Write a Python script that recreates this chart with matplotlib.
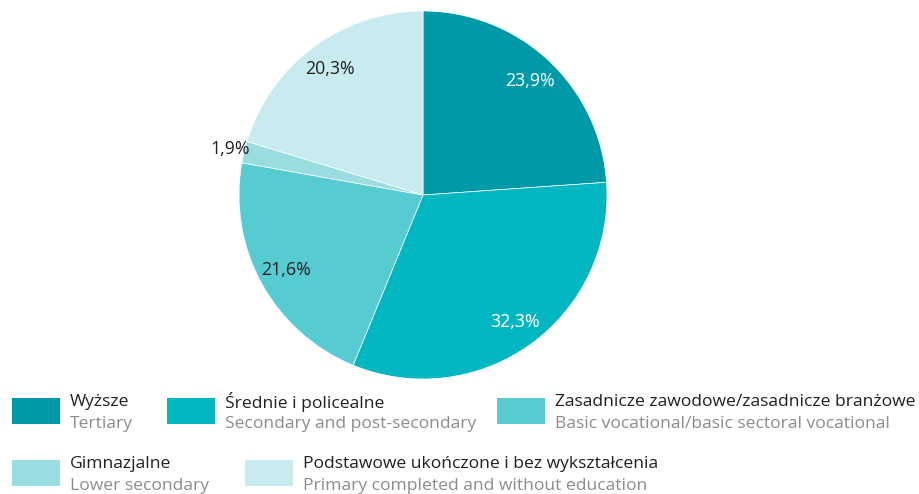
import numpy as np
import matplotlib.pyplot as plt
from matplotlib.patches import Rectangle

# ===================== Data =====================
SHARES = [23.9, 32.3, 21.6, 1.9, 20.3]
LABELS_PL = [
    "Wyższe",
    "Średnie i policealne",
    "Zasadnicze zawodowe/zasadnicze branżowe",
    "Gimnazjalne",
    "Podstawowe ukończone i bez wykształcenia",
]
LABELS_EN = [
    "Tertiary",
    "Secondary and post-secondary",
    "Basic vocational/basic sectoral vocational",
    "Lower secondary",
    "Primary completed and without education",
]

# ===================== Style =====================
COLORS = ["#0099a8", "#00b6c1", "#56cbd1", "#9adde1", "#c8ebef"]
PCT_COLORS = ["white", "white", "#231f20", "#231f20", "#231f20"]
FONT = "Open Sans"
W, H = 920, 494

# legend placement in pixels: (square x, square top y)
LEGEND_POS = [(12, 398), (167, 398), (497, 398), (12, 460), (245, 460)]
SQ_W, SQ_H = 48, 26


def fmt_pct(v):
    return f"{v:.1f}%".replace(".", ",")


def main():
    plt.rcParams["font.family"] = [FONT, "DejaVu Sans"]
    fig = plt.figure(figsize=(W / 100, H / 100), dpi=100)

    cx, cy, r = 423, 195, 184
    ax = fig.add_axes([(cx - r) / W, (H - cy - r) / H, 2 * r / W, 2 * r / H])
    wedges, texts = ax.pie(
        SHARES,
        colors=COLORS,
        startangle=90,
        counterclock=False,
        radius=1.0,
        wedgeprops=dict(edgecolor="white", linewidth=0.5),
    )
    ax.set_xlim(-1, 1)
    ax.set_ylim(-1, 1)
    ax.set_aspect("equal")
    ax.axis("off")

    # percentage labels
    for i, (w, v) in enumerate(zip(wedges, SHARES)):
        ang = np.deg2rad((w.theta1 + w.theta2) / 2)
        dist = 1.08 if v < 5 else 0.85
        ax.text(dist * np.cos(ang), dist * np.sin(ang), fmt_pct(v),
                ha="center", va="center", fontsize=12.8, color=PCT_COLORS[i])

    # legend
    for (x, y), col, pl, en in zip(LEGEND_POS, COLORS, LABELS_PL, LABELS_EN):
        fig.patches.append(Rectangle((x / W, 1 - (y + SQ_H) / H), SQ_W / W, SQ_H / H,
                                     transform=fig.transFigure, facecolor=col,
                                     edgecolor="none"))
        tx = (x + SQ_W + 10) / W
        fig.text(tx, 1 - (y + 4) / H, pl, ha="left", va="center",
                 fontsize=12.6, color="#231f20")
        fig.text(tx, 1 - (y + 26) / H, en, ha="left", va="center",
                 fontsize=12.6, color="#8c8c8c")

    fig.savefig("out.png", dpi=100)
    plt.close(fig)


if __name__ == "__main__":
    main()
